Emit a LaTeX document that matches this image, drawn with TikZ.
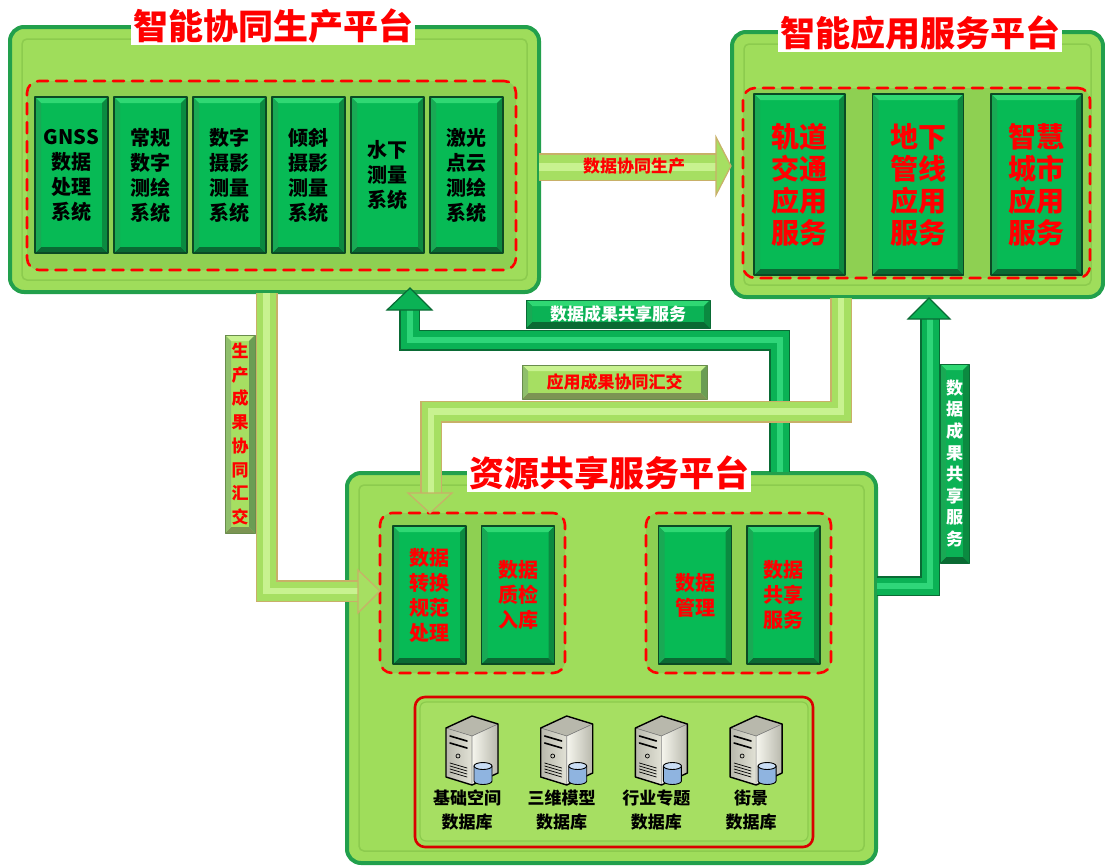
\documentclass[tikz,border=0pt]{standalone}
\usepackage{fontspec}
\setmainfont{Noto Sans CJK SC}
\usetikzlibrary{calc}
\begin{document}
\begin{tikzpicture}[x=1pt,y=-1pt,line join=round,line cap=round]
	\definecolor{panelgreen}{HTML}{9FDD5B}
	\definecolor{paneledge}{HTML}{22A04C}
	\definecolor{panelrim}{HTML}{8CCB4E}
	\definecolor{dashfill}{HTML}{8ED052}
	\definecolor{boxgreen}{HTML}{07BA55}
	\definecolor{boxtop}{HTML}{2FD873}
	\definecolor{boxbot}{HTML}{0A6A33}
	\definecolor{boxside}{HTML}{0B8A40}
	\definecolor{boxline}{HTML}{0B4A24}
	\definecolor{tubelight}{HTML}{A6DF62}
	\definecolor{tubelighthi}{HTML}{C8F290}
	\definecolor{tubelightedge}{HTML}{C8B068}
	\definecolor{tubedark}{HTML}{0BB255}
	\definecolor{tubedarkhi}{HTML}{2FD679}
	\definecolor{tubedarkedge}{HTML}{0A6B35}
	\definecolor{servfront}{HTML}{E2E2D6}
	\definecolor{servside}{HTML}{F6F6EE}
	\definecolor{servshade}{HTML}{B8B8AC}
	\definecolor{cylblue}{HTML}{8FB4E0}
	\definecolor{cyltop}{HTML}{C9DDF4}
	\useasboundingbox (0,0) rectangle (1105,865);
	
	\tikzset{
		bevel/.style n args={3}{path picture={
				\coordinate (bl) at (path picture bounding box.south west);
				\coordinate (tr) at (path picture bounding box.north east);
				\coordinate (tl) at (bl|-tr);
				\coordinate (br) at (tr|-bl);
				\fill[#1] (tl) -- (tr) -- ($(tr)+(-6pt,-6pt)$) -- ($(tl)+(6pt,-6pt)$) -- cycle;
				\fill[#2] (bl) -- (br) -- ($(br)+(-6pt,6pt)$) -- ($(bl)+(6pt,6pt)$) -- cycle;
				\fill[#3] (tr) -- (br) -- ($(br)+(-6pt,6pt)$) -- ($(tr)+(-6pt,-6pt)$) -- cycle;
				\fill[#3!60!#1] (tl) -- (bl) -- ($(bl)+(6pt,6pt)$) -- ($(tl)+(6pt,-6pt)$) -- cycle;
		}},
		sysbox/.style={bevel={boxtop}{boxbot}{boxside}, fill=boxgreen, draw=boxline, line width=1.5pt,
			minimum width=73pt, minimum height=156pt, inner sep=0pt, align=center,
			font=\bfseries\fontsize{20}{25}\selectfont},
		appbox/.style={sysbox, minimum width=91pt, minimum height=181pt, text=red,
			font=\bfseries\fontsize{28}{32}\selectfont},
		resbox/.style={sysbox, minimum height=138pt, text=red},
		panel/.style={fill=panelgreen, draw=paneledge, line width=4pt, rounded corners=14pt,
			path picture={\draw[panelrim, line width=1.5pt, rounded corners=5pt]
				($(path picture bounding box.south west)+(12pt,12pt)$) rectangle ($(path picture bounding box.north east)+(-12pt,-12pt)$);}},
		group/.style={fill=dashfill, draw=red, line width=2.6pt, dash pattern=on 11pt off 8pt, rounded corners=12pt},
		dbgroup/.style={fill=panelgreen, draw=red!85!black, line width=2.6pt, rounded corners=10pt,
			path picture={\draw[fill=tubelight, draw=panelrim, line width=1.2pt, rounded corners=6pt]
				($(path picture bounding box.south west)+(5pt,6pt)$) rectangle ($(path picture bounding box.north east)+(-5pt,-5pt)$);}},
		ttl/.style={fill=white, text=red, inner sep=2pt, font=\bfseries\fontsize{35}{40}\selectfont},
		tubel/.style={line cap=butt, line join=miter, draw=tubelight, line width=#1-3pt,
			preaction={draw=tubelightedge, line width=#1, line cap=butt, line join=miter},
			postaction={draw=tubelighthi, line width=#1/3.5, line cap=butt, line join=miter}},
		tubel/.default=22pt,
		tubed/.style={line cap=butt, line join=miter, draw=tubedark, line width=#1-3pt,
			preaction={draw=tubedarkedge, line width=#1, line cap=butt, line join=miter},
			postaction={draw=tubedarkhi, line width=#1/3.5, line cap=butt, line join=miter}},
		tubed/.default=21pt,
		headl/.style={fill=tubelight, draw=tubelightedge, line width=1.2pt, line join=miter},
		headd/.style={fill=tubedark, draw=tubedarkedge, line width=1.2pt, line join=miter},
		tagl/.style={bevel={tubelighthi}{tubelightedge!60!boxbot}{tubelightedge!50!boxside}, fill=tubelight,
			draw=tubelightedge!50!boxbot, line width=.8pt, text=red, inner sep=0pt, align=center,
			font=\bfseries\fontsize{17}{21}\selectfont},
		tagd/.style={bevel={boxtop}{boxbot}{boxside}, fill=tubedark, draw=tubedarkedge, line width=.8pt,
			text=white, inner sep=0pt, align=center, font=\bfseries\fontsize{17}{21}\selectfont},
		dblabel/.style={align=center, inner sep=0pt, font=\bfseries\fontsize{17}{24}\selectfont},
		server/.pic={
			\fill[servshade] (-26,-20) -- (0,-32) -- (26,-24) -- (0,-12) -- cycle;
			\fill[left color=servshade, right color=servfront] (-26,-20) -- (0,-12) -- (0,37) -- (-26,29) -- cycle;
			\fill[left color=servside, right color=servshade] (0,-12) -- (26,-24) -- (26,25) -- (0,37) -- cycle;
			\draw[gray, line width=.6pt] (-26,-20) -- (0,-12) -- (26,-24) (0,-12) -- (0,37);
			\draw[line width=1.4pt] (-26,-20) -- (0,-32) -- (26,-24) -- (26,25) -- (0,37) -- (-26,29) -- cycle;
			% front face details
			\draw[line width=1.6pt] (-22,-12) -- (-5,-7) (-22,-5) -- (-5,0);
			\draw[line width=.7pt] (-14,8) circle (2pt);
			\foreach \k in {0,3,...,9} \draw[line width=.7pt] (-22,15+\k) -- (-5,20+\k);
			% database
			\draw[line width=.9pt, fill=cylblue] (2,18) -- (2,33) arc[start angle=180, end angle=360, x radius=9pt, y radius=3.5pt] -- (20,18) -- cycle;
			\draw[line width=.9pt, fill=cyltop] (11,18) ellipse[x radius=9pt, y radius=3.5pt];
		}
	}
	
	%%%%%%%%%% panels
	\node[panel, minimum width=529pt, minimum height=265pt] (prod) at (274.5,159.5) {};
	\node[panel, minimum width=371pt, minimum height=265pt] (app) at (917.5,164.5) {};
	\node[panel, minimum width=529pt, minimum height=390pt] (res) at (611.5,668) {};
	
	\node[group, minimum width=489pt, minimum height=189pt] (prodG) at (271.5,175.5) {};
	\node[group, minimum width=347pt, minimum height=190pt] (appG) at (916.5,183) {};
	\node[group, minimum width=185pt, minimum height=160pt] (resA) at (472.5,593) {};
	\node[group, minimum width=185pt, minimum height=160pt] (resB) at (738.5,593) {};
	\node[dbgroup, minimum width=398pt, minimum height=150pt] (db) at (614,772) {};
	
	%%%%%%%%%% boxes
	\foreach \t [count=\i] in {{GNSS\\数据\\处理\\系统},{常规\\数字\\测绘\\系统},{数字\\摄影\\测量\\系统},{倾斜\\摄影\\测量\\系统},{水下\\测量\\系统},{激光\\点云\\测绘\\系统}}
		\node[sysbox] (p\i) at ({71.5+79*(\i-1)},175) {\t};
	\foreach \t [count=\i] in {{轨道\\交通\\应用\\服务},{地下\\管线\\应用\\服务},{智慧\\城市\\应用\\服务}}
		\node[appbox] (a\i) at ({799.5+118.5*(\i-1)},184.5) {\t};
	\node[resbox] (r1) at (429.5,595) {数据\\转换\\规范\\处理};
	\node[resbox] (r2) at (518,595) {数据\\质检\\入库};
	\node[resbox] (r3) at (695,595) {数据\\管理};
	\node[resbox] (r4) at (783.5,595) {数据\\共享\\服务};
	
	\foreach \t [count=\i] in {{基础空间},{三维模型},{行业专题},{街景}}{
		\pic (s\i) at ({472+94.7*(\i-1)},748) {server};
		\node[dblabel] (d\i) at ({467+94.7*(\i-1)},810) {\t\\数据库};
	}
	
	%%%%%%%%%% titles
	\node[ttl] (prodT) at (273,26) {智能协同生产平台};
	\node[ttl] (appT) at (920,33) {智能应用服务平台};
	\node[ttl] (resT) at (609,473) {资源共享服务平台};
	
	%%%%%%%%%% arrows
	% 数据协同生产
	\draw[tubel=28pt] (539,167) -- (716,167);
	\draw[headl] (716,137) -- (731,166) -- (716,195) -- cycle;
	\node[text=red, font=\bfseries\fontsize{17}{21}\selectfont] (lab1) at (634,166) {数据协同生产};
	
	% 生产成果协同汇交
	\draw[tubel] (266.5,293) -- (266.5,591) -- (358,591);
	\draw[headl] (358,570) -- (380,591) -- (358,613) -- cycle;
	\node[tagl, minimum width=30pt, minimum height=198pt, font=\bfseries\fontsize{17}{23.7}\selectfont] (lab2) at (240,434) {生\\产\\成\\果\\协\\同\\汇\\交};
	
	% 数据成果共享服务 (to production)
	\draw[tubed] (779.5,472) -- (779.5,340) -- (409.5,340) -- (409.5,310);
	\draw[headd] (387,310) -- (410,288) -- (432,310) -- cycle;
	\node[tagd, minimum width=184pt, minimum height=28pt] (lab3) at (618,314) {数据成果共享服务};
	
	% 应用成果协同汇交
	\draw[tubel] (841,298) -- (841,411.5) -- (431,411.5) -- (431,493);
	\draw[headl] (408,493) -- (430,513) -- (452,493) -- cycle;
	\node[tagl, minimum width=185pt, minimum height=34pt] (lab4) at (614.5,382) {应用成果协同汇交};
	
	% 数据成果共享服务 (to application)
	\draw[tubed=20pt] (877,586) -- (930,586) -- (930,319);
	\draw[headd] (908,319) -- (929,298) -- (950,319) -- cycle;
	\node[tagd, minimum width=29pt, minimum height=199pt, font=\bfseries\fontsize{17}{21.6}\selectfont] (lab5) at (954.5,463.5) {数\\据\\成\\果\\共\\享\\服\\务};
\end{tikzpicture}
\end{document}
